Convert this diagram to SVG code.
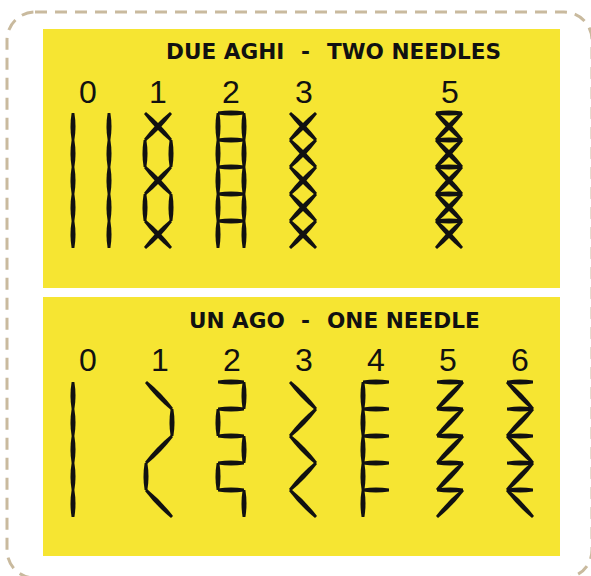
<svg xmlns="http://www.w3.org/2000/svg" xmlns:xlink="http://www.w3.org/1999/xlink" width="591" height="576" viewBox="0 0 591 576">
<style>
.panel{fill:#F6E532}
.frame{fill:none;stroke:#C9BA9E;stroke-width:3;stroke-dasharray:12 8}
.title{font-family:"DejaVu Sans",Verdana,sans-serif;font-weight:bold;font-size:21.6px;fill:#111}
.num{font-family:"Liberation Sans",Arial,sans-serif;font-size:32px;fill:#111;text-anchor:middle}
.st{fill:#111}
</style>
<defs>
<path id="V" class="st" d="M-1.4,0 Q-3.6,13.5 -1.4,27 L1.4,27 Q3.6,13.5 1.4,0 Z"/>
<path id="H" class="st" d="M0,-1.4 Q13,-3.6 26,-1.4 L26,1.4 Q13,3.6 0,1.4 Z"/>
<path id="D" class="st" d="M1.01,-0.97 Q15.59,11.00 27.01,26.03 L24.99,27.97 Q10.41,16.00 -1.01,0.97 Z"/>
<path id="E" class="st" d="M-1.01,-0.97 Q-15.59,11.00 -27.01,26.03 L-24.99,27.97 Q-10.41,16.00 1.01,0.97 Z"/>
</defs>
<rect width="591" height="576" fill="#fff"/>
<rect class="frame" x="7" y="12" width="585" height="566" rx="28"/>

<g id="panel-two-needles">
<rect class="panel" x="43" y="29" width="517" height="259"/>
<text class="title" y="59"><tspan x="166">DUE AGHI</tspan><tspan x="301">-</tspan><tspan x="327">TWO NEEDLES</tspan></text>
<g id="top-labels">
<text class="num" x="88" y="103">0</text>
<text class="num" x="158" y="103">1</text>
<text class="num" x="231" y="103">2</text>
<text class="num" x="304" y="103">3</text>
<text class="num" x="450" y="103">5</text>
</g>
<g id="top-0" transform="translate(73,113)">
<use href="#V" y="0"/><use href="#V" y="27"/><use href="#V" y="54"/><use href="#V" y="81"/><use href="#V" y="108"/>
<use href="#V" x="36" y="0"/><use href="#V" x="36" y="27"/><use href="#V" x="36" y="54"/><use href="#V" x="36" y="81"/><use href="#V" x="36" y="108"/>
</g>
<g id="top-1" transform="translate(145,113)">
<use href="#D" x="0" y="0"/><use href="#V" x="26" y="27"/><use href="#E" x="26" y="54"/><use href="#V" x="0" y="81"/><use href="#D" x="0" y="108"/>
<use href="#E" x="26" y="0"/><use href="#V" x="0" y="27"/><use href="#D" x="0" y="54"/><use href="#V" x="26" y="81"/><use href="#E" x="26" y="108"/>
</g>
<g id="top-2" transform="translate(218,113)">
<use href="#V" y="0"/><use href="#V" y="27"/><use href="#V" y="54"/><use href="#V" y="81"/><use href="#V" y="108"/>
<use href="#V" x="26" y="0"/><use href="#V" x="26" y="27"/><use href="#V" x="26" y="54"/><use href="#V" x="26" y="81"/><use href="#V" x="26" y="108"/>
<use href="#H" y="0"/><use href="#H" y="27"/><use href="#H" y="54"/><use href="#H" y="81"/><use href="#H" y="108"/>
</g>
<g id="top-3" transform="translate(290,113)">
<use href="#D" y="0"/><use href="#D" y="27"/><use href="#D" y="54"/><use href="#D" y="81"/><use href="#D" y="108"/>
<use href="#E" x="26" y="0"/><use href="#E" x="26" y="27"/><use href="#E" x="26" y="54"/><use href="#E" x="26" y="81"/><use href="#E" x="26" y="108"/>
</g>
<g id="top-5" transform="translate(436,113)">
<use href="#D" y="0"/><use href="#D" y="27"/><use href="#D" y="54"/><use href="#D" y="81"/><use href="#D" y="108"/>
<use href="#E" x="26" y="0"/><use href="#E" x="26" y="27"/><use href="#E" x="26" y="54"/><use href="#E" x="26" y="81"/><use href="#E" x="26" y="108"/>
<use href="#H" y="0"/><use href="#H" y="27"/><use href="#H" y="54"/><use href="#H" y="81"/><use href="#H" y="108"/>
</g>
</g>

<g id="panel-one-needle">
<rect class="panel" x="43" y="297" width="517" height="259"/>
<text class="title" y="328"><tspan x="189">UN AGO</tspan><tspan x="301">-</tspan><tspan x="327">ONE NEEDLE</tspan></text>
<g id="bottom-labels">
<text class="num" x="88" y="371">0</text>
<text class="num" x="160" y="371">1</text>
<text class="num" x="232" y="371">2</text>
<text class="num" x="304" y="371">3</text>
<text class="num" x="376" y="371">4</text>
<text class="num" x="448" y="371">5</text>
<text class="num" x="520" y="371">6</text>
</g>
<g id="bottom-0" transform="translate(73,382)">
<use href="#V" y="0"/><use href="#V" y="27"/><use href="#V" y="54"/><use href="#V" y="81"/><use href="#V" y="108"/>
</g>
<g id="bottom-1" transform="translate(146,382)">
<use href="#D" x="0" y="0"/><use href="#V" x="26" y="27"/><use href="#E" x="26" y="54"/><use href="#V" x="0" y="81"/><use href="#D" x="0" y="108"/>
</g>
<g id="bottom-2" transform="translate(218,382)">
<use href="#H" y="0"/><use href="#V" x="26" y="0"/><use href="#H" y="27"/><use href="#V" x="0" y="27"/><use href="#H" y="54"/><use href="#V" x="26" y="54"/><use href="#H" y="81"/><use href="#V" x="0" y="81"/><use href="#H" y="108"/><use href="#V" x="26" y="108"/>
</g>
<g id="bottom-3" transform="translate(290,382)">
<use href="#D" x="0" y="0"/><use href="#E" x="26" y="27"/><use href="#D" x="0" y="54"/><use href="#E" x="26" y="81"/><use href="#D" x="0" y="108"/>
</g>
<g id="bottom-4" transform="translate(363,382)">
<use href="#V" y="0"/><use href="#V" y="27"/><use href="#V" y="54"/><use href="#V" y="81"/><use href="#V" y="108"/>
<use href="#H" y="0"/><use href="#H" y="27"/><use href="#H" y="54"/><use href="#H" y="81"/><use href="#H" y="108"/>
</g>
<g id="bottom-5" transform="translate(437,382)">
<use href="#H" y="0"/><use href="#H" y="27"/><use href="#H" y="54"/><use href="#H" y="81"/><use href="#H" y="108"/>
<use href="#E" x="26" y="0"/><use href="#E" x="26" y="27"/><use href="#E" x="26" y="54"/><use href="#E" x="26" y="81"/><use href="#E" x="26" y="108"/>
</g>
<g id="bottom-6" transform="translate(507,382)">
<use href="#H" y="0"/><use href="#H" y="27"/><use href="#H" y="54"/><use href="#H" y="81"/><use href="#H" y="108"/>
<use href="#D" x="0" y="0"/><use href="#E" x="26" y="27"/><use href="#D" x="0" y="54"/><use href="#E" x="26" y="81"/><use href="#D" x="0" y="108"/>
</g>
</g>
</svg>
